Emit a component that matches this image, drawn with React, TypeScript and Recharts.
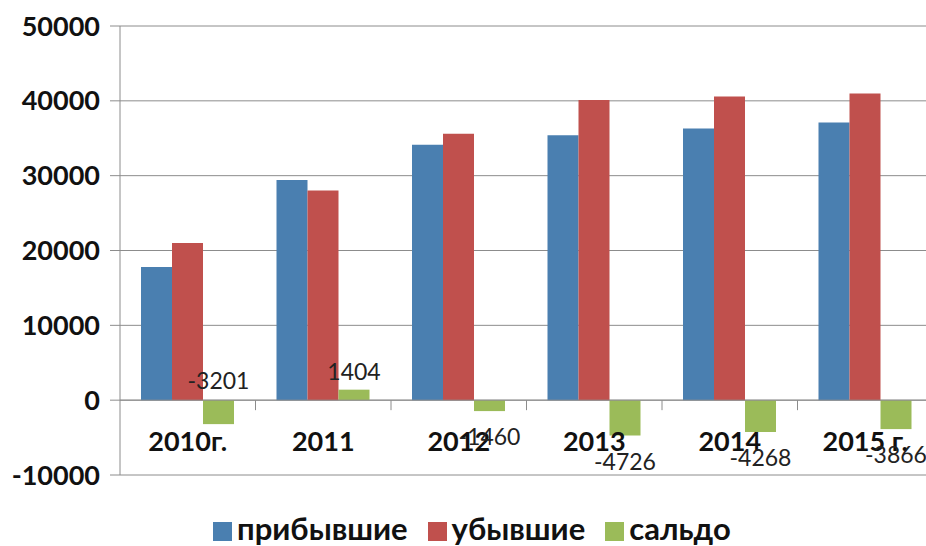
import { BarChart, Bar, XAxis, YAxis, CartesianGrid, ReferenceLine, Legend, LabelList } from "recharts";

const categories = ["2010г.", "2011", "2012", "2013", "2014", "2015 г."];
const arrived = [17800, 29420, 34140, 35400, 36300, 37100];
const departed = [21001, 28016, 35600, 40126, 40568, 40966];
const saldo = [-3201, 1404, -1460, -4726, -4268, -3866];
const yTicks = [-10000, 0, 10000, 20000, 30000, 40000, 50000];
const seriesNames = ["прибывшие", "убывшие", "сальдо"];
const colors = ["#4a7fb0", "#c0504d", "#9bbb59"];
// where Excel put each saldo label
const saldoLabelSide = ["zero", "above", "below", "below", "below", "below"];

const data = categories.map((name, i) => ({
  name,
  arrived: arrived[i],
  departed: departed[i],
  saldo: saldo[i],
}));

const W = 940;
const H = 546;
const TOP = 26;
const BOTTOM = 475;
const LEFT = 120;
const ZERO_Y = TOP + ((BOTTOM - TOP) * 50000) / 60000;
const FONT = "Lato, 'Open Sans', sans-serif";

function CategoryTick(props: any) {
  const { x, y, payload } = props;
  const half = payload && payload.offset ? payload.offset : (W - LEFT - 7) / 12;
  const zy = y - (BOTTOM - ZERO_Y);
  return (
    <g>
      <line x1={x + half} x2={x + half} y1={zy} y2={zy + 10} stroke="#8c8c8c" />
      <text
        x={x}
        y={y - 35}
        textAnchor="middle"
        dominantBaseline="central"
        fontFamily={FONT}
        fontWeight={700}
        fontSize={27}
        fill="#111"
      >
        {payload.value}
      </text>
    </g>
  );
}

function SaldoLabel(props: any) {
  const { x, y, width, height, value, index } = props;
  const top = Math.min(y, y + height);
  const bottom = Math.max(y, y + height);
  const side = saldoLabelSide[index];
  let ly = bottom + 25;
  if (side === "above") ly = top - 19;
  if (side === "zero") ly = ZERO_Y - 20;
  return (
    <text
      x={x + width / 2}
      y={ly}
      textAnchor="middle"
      dominantBaseline="central"
      fontFamily={FONT}
      fontSize={23}
      fill="#222"
    >
      {value}
    </text>
  );
}

function ChartLegend() {
  return (
    <div style={{ display: "flex", alignItems: "center", fontFamily: FONT, fontWeight: 700, fontSize: 31, color: "#111", whiteSpace: "nowrap" }}>
      {seriesNames.map((n, i) => (
        <div key={n} style={{ display: "flex", alignItems: "center", marginRight: 20 }}>
          <span style={{ width: 19, height: 19, background: colors[i], display: "inline-block", marginRight: 5, position: "relative", top: 3 }} />
          <span>{n}</span>
        </div>
      ))}
    </div>
  );
}

export default function App() {
  return (
    <div style={{ position: "absolute", left: 0, top: 0, width: 926, height: 546, overflow: "hidden", background: "#fff" }}>
      <BarChart
        width={W}
        height={H}
        data={data}
        margin={{ top: TOP, right: 7, bottom: 0, left: 0 }}
        barCategoryGap="15.5%"
        barGap={0}
      >
        <CartesianGrid vertical={false} stroke="#8c8c8c" />
        <YAxis
          domain={[-10000, 50000]}
          ticks={yTicks}
          width={LEFT}
          tickSize={10}
          tickMargin={10}
          stroke="#8c8c8c"
          tick={{ fill: "#111", fontSize: 27, fontWeight: 700, fontFamily: FONT }}
          interval={0}
        />
        <XAxis
          dataKey="name"
          height={H - BOTTOM}
          axisLine={false}
          tickLine={false}
          tickSize={0}
          tickMargin={0}
          interval={0}
          tick={<CategoryTick />}
        />
        <ReferenceLine y={0} stroke="#8c8c8c" />
        <Legend
          layout="horizontal"
          verticalAlign="middle"
          align="center"
          wrapperStyle={{ top: 509, left: 213, width: 600 }}
          content={() => <ChartLegend />}
        />
        <Bar dataKey="arrived" name={seriesNames[0]} fill={colors[0]} isAnimationActive={false} />
        <Bar dataKey="departed" name={seriesNames[1]} fill={colors[1]} isAnimationActive={false} />
        <Bar dataKey="saldo" name={seriesNames[2]} fill={colors[2]} isAnimationActive={false}>
          <LabelList dataKey="saldo" content={<SaldoLabel />} />
        </Bar>
      </BarChart>
    </div>
  );
}
